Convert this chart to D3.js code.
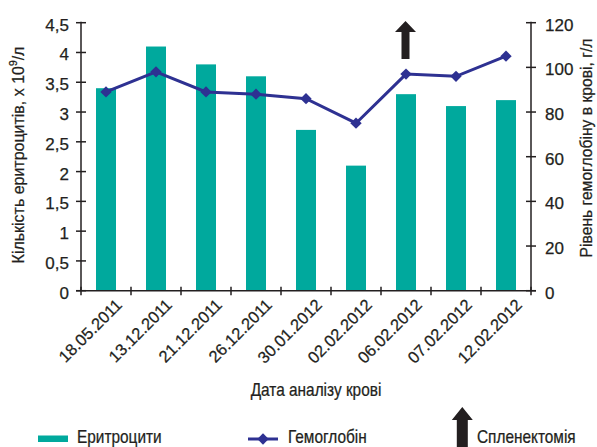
<!DOCTYPE html>
<html>
<head>
<meta charset="utf-8">
<script src="https://cdn.jsdelivr.net/npm/d3@7/dist/d3.min.js"></script>
<style>
  html, body { margin: 0; padding: 0; background: #fff; }
  svg text { font-family: "Liberation Sans Narrow", "Arial Narrow", "Liberation Sans", sans-serif; fill: #231f20; stroke: #231f20; stroke-width: 0.25; }
</style>
</head>
<body>
<svg id="chart" width="597" height="447"></svg>
<script>
// Blood test dates
const dates = ["18.05.2011", "13.12.2011", "21.12.2011", "26.12.2011", "30.01.2012",
               "02.02.2012", "06.02.2012", "07.02.2012", "12.02.2012"];
// Red blood cell count, x 10^9/l
const erythrocytes = [3.4, 4.1, 3.8, 3.6, 2.7, 2.1, 3.3, 3.1, 3.2];
// Haemoglobin level, g/l
const haemoglobin = [89, 98, 89, 88, 86, 75, 97, 96, 105];
// Date of splenectomy (marked by an arrow)
const splenectomyDate = "06.02.2012";
// Axis ticks
const leftTicks = [0, 0.5, 1, 1.5, 2, 2.5, 3, 3.5, 4, 4.5];
const rightTicks = [0, 20, 40, 60, 80, 100, 120];

const teal = "#00a99d", navy = "#2e3192", ink = "#231f20";
const svg = d3.select("#chart");

const x0 = 81, x1 = 531, yTop = 22.7, yBot = 290.7;
const xBand = d3.scaleBand().domain(dates).range([x0, x1]);
const cx = d => xBand(d) + xBand.bandwidth() / 2;
const yL = d3.scaleLinear().domain([0, 4.5]).range([yBot, yTop]);
const yR = d3.scaleLinear().domain([0, 120]).range([yBot, yTop]);
const fmt = d => String(d).replace(".", ",");
const squeeze = 0.88;   // horizontal condensing of title/legend type

// bars
svg.append("g").selectAll("rect").data(erythrocytes).join("rect")
  .attr("x", (d, i) => cx(dates[i]) - 10)
  .attr("width", 20)
  .attr("y", d => yL(d))
  .attr("height", d => yBot - yL(d))
  .attr("fill", teal);

// axes
const axes = svg.append("g").attr("stroke", ink).attr("stroke-width", 1.5);
axes.append("line").attr("x1", x0).attr("x2", x0).attr("y1", yTop - 1).attr("y2", yBot);
axes.append("line").attr("x1", x1).attr("x2", x1).attr("y1", yTop - 1).attr("y2", yBot);
axes.append("line").attr("x1", x0 - 5).attr("x2", x1 + 5).attr("y1", yBot).attr("y2", yBot);
axes.selectAll(".tl").data(leftTicks).join("line").attr("class", "tl")
  .attr("x1", x0 - 5).attr("x2", x0 + 5).attr("y1", d => yL(d)).attr("y2", d => yL(d));
axes.selectAll(".tr").data(rightTicks).join("line").attr("class", "tr")
  .attr("x1", x1 - 5).attr("x2", x1 + 5).attr("y1", d => yR(d)).attr("y2", d => yR(d));
const boundaries = dates.map(d => xBand(d)).concat([x1]);
axes.selectAll(".tb").data(boundaries).join("line").attr("class", "tb")
  .attr("x1", d => d).attr("x2", d => d).attr("y1", yBot - 4).attr("y2", yBot + 4.5);

// tick labels
svg.append("g").selectAll("text").data(leftTicks).join("text")
  .attr("x", 69).attr("y", d => yL(d) + 8)
  .attr("text-anchor", "end").attr("font-size", 17).text(fmt);
svg.append("g").selectAll("text").data(rightTicks).join("text")
  .attr("x", 545).attr("y", d => yR(d) + 8)
  .attr("font-size", 17).text(d => d);
svg.append("g").selectAll("text").data(dates).join("text")
  .attr("transform", d => `translate(${cx(d) + 17},306) rotate(-45)`)
  .attr("text-anchor", "end").attr("font-size", 16.5).text(d => d);

// haemoglobin line with diamond markers
const line = d3.line().x((d, i) => cx(dates[i])).y(d => yR(d));
svg.append("path").datum(haemoglobin).attr("d", line)
  .attr("fill", "none").attr("stroke", navy).attr("stroke-width", 3);
const marker = d3.symbol().type(d3.symbolSquare).size(64)();
svg.append("g").selectAll("path").data(haemoglobin).join("path")
  .attr("transform", (d, i) => `translate(${cx(dates[i])},${yR(d)}) rotate(45)`)
  .attr("d", marker)
  .attr("fill", navy);

// arrow shape: centre x, top y, head width, head height, shaft width, bottom y
function arrowPath(ax, top, hw, hh, sw, bottom) {
  return `M${ax},${top} L${ax + hw / 2},${top + hh} L${ax + sw / 2},${top + hh} L${ax + sw / 2},${bottom}
          L${ax - sw / 2},${bottom} L${ax - sw / 2},${top + hh} L${ax - hw / 2},${top + hh} Z`;
}
svg.append("path")
  .attr("d", arrowPath(cx(splenectomyDate) - 0.5, 21, 21, 11, 8, 59))
  .attr("fill", ink);

// axis titles
svg.append("text").attr("transform", `translate(24,155) rotate(-90) scale(0.94,1)`)
  .attr("text-anchor", "middle").attr("font-size", 17)
  .call(t => {
    t.append("tspan").text("Кількість еритроцитів, х 10");
    t.append("tspan").attr("font-size", 11).attr("dy", -7).text("9");
    t.append("tspan").attr("dy", 7).text("/л");
  });
svg.append("text").attr("transform", `translate(592,148) rotate(-90) scale(0.95,1)`)
  .attr("text-anchor", "middle").attr("font-size", 16.5)
  .text("Рівень гемоглобіну в крові, г/л");
svg.append("text").attr("transform", `translate(316,396) scale(${squeeze},1)`)
  .attr("text-anchor", "middle").attr("font-size", 17.5)
  .text("Дата аналізу крові");

// legend
const lg = svg.append("g");
lg.append("rect").attr("x", 38).attr("y", 435.5).attr("width", 30).attr("height", 6.5).attr("fill", teal);
lg.append("text").attr("transform", `translate(77,443) scale(${squeeze},1)`)
  .attr("font-size", 17.5).text("Еритроцити");
lg.append("line").attr("x1", 248).attr("x2", 278).attr("y1", 439).attr("y2", 439)
  .attr("stroke", navy).attr("stroke-width", 3);
lg.append("path").attr("transform", "translate(263,439) rotate(45)")
  .attr("d", marker).attr("fill", navy);
lg.append("text").attr("transform", `translate(288,443) scale(${squeeze},1)`)
  .attr("font-size", 17.5).text("Гемоглобін");
lg.append("path").attr("d", arrowPath(462.3, 407, 21, 13, 11, 448)).attr("fill", ink);
lg.append("text").attr("transform", `translate(477,443) scale(${squeeze},1)`)
  .attr("font-size", 17.5).text("Спленектомія");
</script>
</body>
</html>
